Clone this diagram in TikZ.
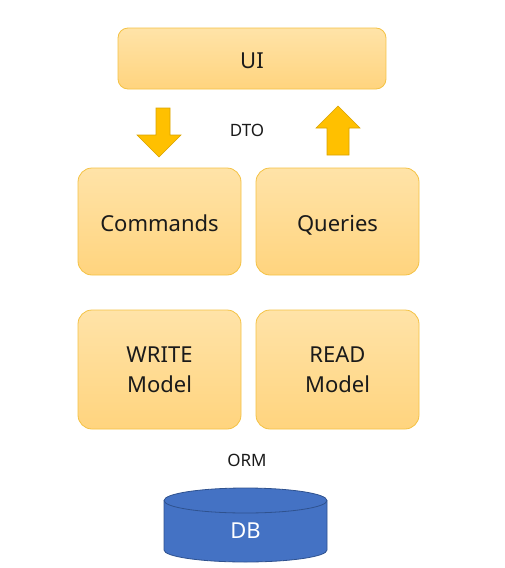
\documentclass[tikz,border=0pt]{standalone}
\usepackage{fontspec}
\setmainfont{Noto Sans}
\usetikzlibrary{shapes.arrows}
\definecolor{boxtop}{HTML}{FFE3A8}
\definecolor{boxbot}{HTML}{FFD47E}
\definecolor{boxline}{HTML}{F4C244}
\definecolor{arrfill}{HTML}{FFC000}
\definecolor{arrline}{HTML}{D9A300}
\definecolor{dbfill}{HTML}{4472C4}
\definecolor{dbline}{HTML}{2F528F}
\definecolor{txt}{HTML}{1A1A1A}
\begin{document}
\begin{tikzpicture}[x=1pt,y=-1pt,
  layerbox/.style={draw=boxline, line width=0.8pt, top color=boxtop, bottom color=boxbot,
    rounded corners=#1, text=txt, font=\fontsize{22}{30}\selectfont, align=center, inner sep=0pt},
  layerbox/.default=14pt,
  oneline/.style={text height=20pt, text depth=1pt},
  lbl/.style={text=txt, font=\fontsize{17}{20}\selectfont, inner sep=0pt},
  bigarrow/.style={fill=arrfill, draw=arrline, line width=0.6pt, line join=miter}]
\useasboundingbox (0,0) rectangle (505,568);

\node[layerbox=10pt, oneline, minimum width=268pt, minimum height=61pt] (ui) at (252,58.5) {UI};
\node[layerbox, oneline, minimum width=163pt, minimum height=107pt] (cmd) at (159.5,221.5) {Commands};
\node[layerbox, oneline, minimum width=163pt, minimum height=107pt] (qry) at (337.5,221.5) {Queries};
\node[layerbox, minimum width=163pt, minimum height=119pt] (wm) at (159.5,369.5) {WRITE\\Model};
\node[layerbox, minimum width=163pt, minimum height=119pt] (rm) at (337.5,369.5) {READ\\Model};

\node[lbl] (dto) at (247,130) {DTO};
\node[lbl] (orm) at (247,460) {ORM};

% down arrow (UI -> Commands)
\draw[bigarrow] (156,108) -- (170,108) -- (170,135) -- (181,135) -- (159,157)
  -- (137,135) -- (156,135) -- cycle;
% up arrow (Queries -> UI)
\draw[bigarrow] (327,155) -- (349,155) -- (349,128) -- (360,128) -- (338,106)
  -- (316,128) -- (327,128) -- cycle;

% DB cylinder
\fill[dbfill] (164,500.5) -- (164,550) arc[start angle=180, end angle=0, x radius=81.5, y radius=12]
  -- (327,500.5) -- cycle;
\draw[dbline, line width=0.8pt] (164,500.5) -- (164,550) arc[start angle=180, end angle=0, x radius=81.5, y radius=12]
  -- (327,500.5);
\draw[dbline, line width=0.8pt, fill=dbfill] (245.5,500.5) ellipse[x radius=81.5, y radius=12.5];
\node[text=white, font=\fontsize{22}{26}\selectfont, inner sep=0pt] (db) at (245.5,531) {DB};
\end{tikzpicture}
\end{document}
